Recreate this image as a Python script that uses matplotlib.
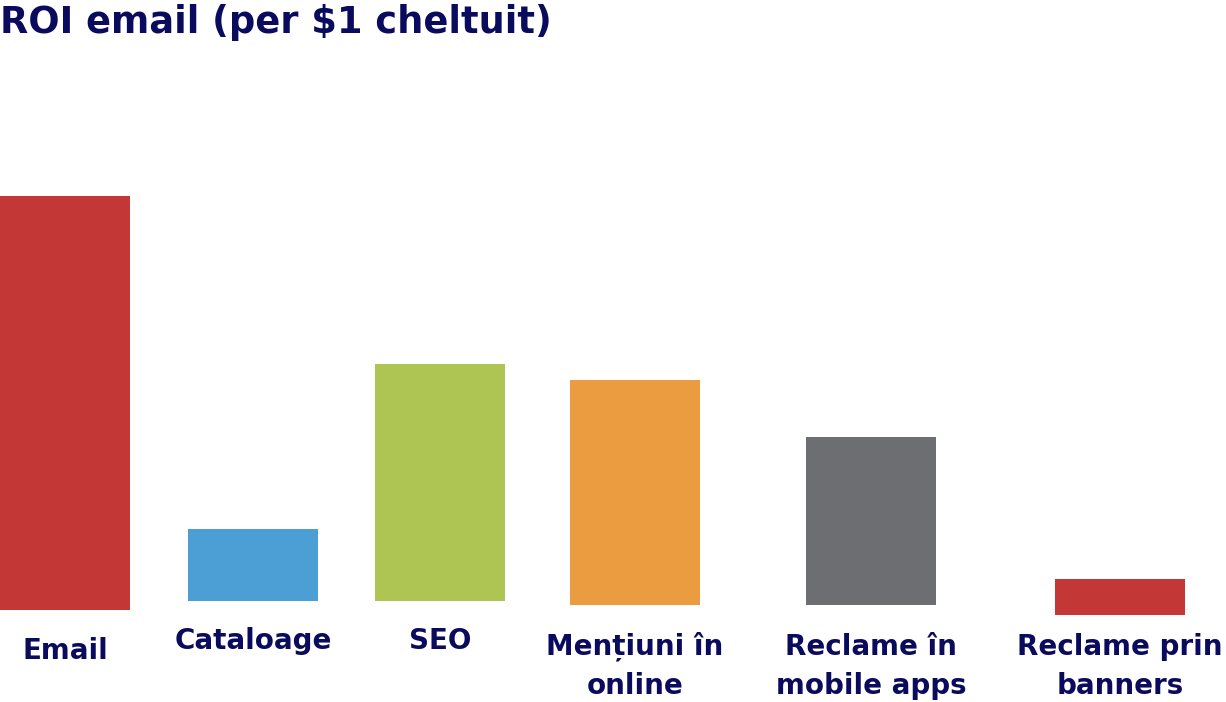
import matplotlib
matplotlib.use('Agg')
import matplotlib.pyplot as plt

plt.rcParams['font.family'] = ['DejaVu Sans']

# date (ROI în $ per $1 cheltuit, estimat din imagine)
categories = ['Email', 'Cataloage', 'SEO', 'Menți' + 'uni în\nonline',
              'Reclame în\nmobile apps', 'Reclame prin\nbanners']
values = [38, 6.6, 21.7, 20.6, 15.4, 3.3]

# layout (pixeli pe axa x, mici decalaje de bază ca în original)
x_pos = [65, 253, 440, 635, 871, 1120]
base_shift = [-0.46, 0.37, 0.37, 0, 0, -0.92]
label_y = [-4.2, -3.3, -3.3, -5.6, -5.6, -5.6]
colors = ['#c33836', '#4c9fd4', '#aec553', '#eb9c40', '#6d6e72', '#c33836']
navy = '#0b0b5e'

fig = plt.figure(figsize=(12.26, 7.02), dpi=100)
ax = fig.add_axes([0, 0, 1, 1])
ax.set_xlim(0, 1226)
ax.set_ylim(-8.9, 55.5)
ax.axis('off')

ax.bar(x_pos, values, width=130, bottom=base_shift, color=colors)

for x, lab, ly in zip(x_pos, categories, label_y):
    ax.text(x, ly, lab, ha='center', va='center', fontsize=20,
            fontweight='bold', color=navy, linespacing=1.5)

fig.text(0.0, 0.995, 'ROI email (per $1 cheltuit)', ha='left', va='top',
         fontsize=26.5, fontweight='bold', color=navy)

fig.savefig('out.png', dpi=100, facecolor='white')
